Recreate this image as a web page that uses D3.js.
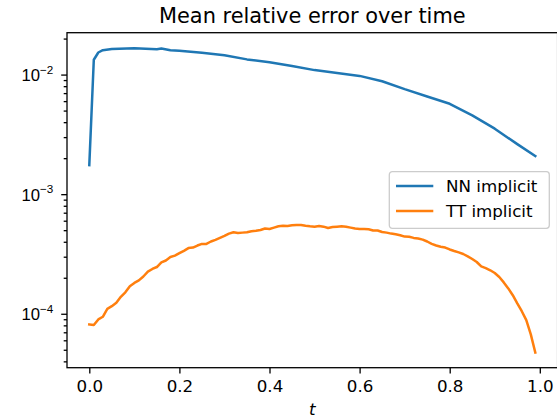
<!DOCTYPE html>
<html>
<head>
<meta charset="utf-8">
<script src="https://cdn.jsdelivr.net/npm/d3@7"></script>
<style>
  body { margin: 0; background: #fff; }
  svg { display: block; font-family: "DejaVu Sans", sans-serif; }
</style>
</head>
<body>
<svg id="chart" width="557" height="418"></svg>
<script>
// time steps of the TT series (0 .. 0.99)
var tTT = d3.range(100).map(function(i) { return i / 100; });

var errTT = [
  8.15e-5, 8.04e-5, 8.97e-5, 9.44e-5, 1.10e-4, 1.157e-4, 1.235e-4, 1.385e-4, 1.51e-4, 1.70e-4,
  1.81e-4, 1.90e-4, 2.05e-4, 2.25e-4, 2.37e-4, 2.46e-4, 2.69e-4, 2.79e-4, 2.98e-4, 3.06e-4,
  3.21e-4, 3.36e-4, 3.54e-4, 3.58e-4, 3.72e-4, 3.84e-4, 3.84e-4, 4.02e-4, 4.15e-4, 4.31e-4,
  4.48e-4, 4.68e-4, 4.80e-4, 4.74e-4, 4.77e-4, 4.80e-4, 4.90e-4, 4.94e-4, 5.02e-4, 5.16e-4,
  5.12e-4, 5.25e-4, 5.39e-4, 5.45e-4, 5.42e-4, 5.49e-4, 5.53e-4, 5.53e-4, 5.45e-4, 5.39e-4,
  5.35e-4, 5.42e-4, 5.35e-4, 5.22e-4, 5.32e-4, 5.35e-4, 5.39e-4, 5.35e-4, 5.25e-4, 5.16e-4,
  5.12e-4, 5.12e-4, 5.09e-4, 4.97e-4, 4.97e-4, 4.83e-4, 4.77e-4, 4.68e-4, 4.62e-4, 4.54e-4,
  4.42e-4, 4.40e-4, 4.31e-4, 4.26e-4, 4.17e-4, 4.02e-4, 3.84e-4, 3.72e-4, 3.63e-4, 3.58e-4,
  3.45e-4, 3.35e-4, 3.26e-4, 3.16e-4, 3.02e-4, 2.87e-4, 2.71e-4, 2.49e-4, 2.41e-4, 2.31e-4,
  2.19e-4, 2.03e-4, 1.83e-4, 1.63e-4, 1.43e-4, 1.22e-4, 1.05e-4, 8.85e-5, 6.73e-5, 4.74e-5
];

// NN series read at coarser steps
var tNN = [0, 0.01, 0.02, 0.03, 0.05, 0.10, 0.15, 0.16, 0.18, 0.20, 0.25, 0.30, 0.35, 0.40,
  0.45, 0.50, 0.55, 0.60, 0.65, 0.70, 0.75, 0.80, 0.85, 0.90, 0.95, 0.99];
var errNN = [1.75e-3, 0.0133, 0.0153, 0.0160, 0.0164, 0.0166, 0.0163, 0.0165, 0.0160, 0.0158,
  0.0152, 0.0145, 0.0134, 0.0127, 0.0118, 0.0109, 0.0103, 0.00975, 0.00880, 0.00755,
  0.00656, 0.00570, 0.00456, 0.00353, 0.00262, 0.00208];

var xTicks = [0, 0.2, 0.4, 0.6, 0.8, 1.0];
var yMajor = [1e-4, 1e-3, 1e-2];
var seriesNames = ["NN implicit", "TT implicit"];
var colors = ["#1f77b4", "#ff7f0e"];

var margin = {left: 67, top: 32.7, right: 557.6, bottom: 367.7};

var svg = d3.select("#chart");

var x = d3.scaleLinear().domain([-0.0495, 1.0395]).range([margin.left, margin.right]);
var y = d3.scaleLog().domain([3.54e-5, 0.0224]).range([margin.bottom, margin.top]);

// minor ticks: 2..9 times each decade inside the domain
var yMinor = y.ticks().filter(function(v) {
  return yMajor.indexOf(v) < 0 && v >= y.domain()[0] && v <= y.domain()[1];
});

//Title
svg.append("text")
  .attr("x", (margin.left + margin.right) / 2)
  .attr("y", 22.7)
  .attr("text-anchor", "middle")
  .attr("font-size", "20.9px")
  .text("Mean relative error over time");

//Lines
var line = d3.line()
  .x(function(d) { return x(d[0]); })
  .y(function(d) { return y(d[1]); });

var nnData = tNN.map(function(t, i) { return [t, errNN[i]]; });
var ttData = tTT.map(function(t, i) { return [t, errTT[i]]; });

[nnData, ttData].forEach(function(data, i) {
  svg.append("path")
    .datum(data)
    .attr("fill", "none")
    .attr("stroke", colors[i])
    .attr("stroke-width", 2.5)
    .attr("stroke-linejoin", "round")
    .attr("stroke-linecap", "square")
    .attr("d", line);
});

//Axes
var xAxis = svg.append("g")
  .attr("transform", "translate(0," + margin.bottom + ")")
  .call(d3.axisBottom(x).tickValues(xTicks).tickSize(5.8).tickPadding(6.8)
    .tickFormat(d3.format(".1f")));

var yAxisMinor = svg.append("g")
  .attr("transform", "translate(" + margin.left + ",0)")
  .call(d3.axisLeft(y).tickValues(yMinor).tickSize(3.3).tickFormat(""));

var yAxis = svg.append("g")
  .attr("transform", "translate(" + margin.left + ",0)")
  .call(d3.axisLeft(y).tickValues(yMajor).tickSize(5.8).tickFormat(""));

[xAxis, yAxis, yAxisMinor].forEach(function(g) {
  g.select(".domain").remove();
  g.selectAll("line").attr("stroke", "#000").attr("stroke-width", 1.3);
  g.selectAll("text").attr("font-family", "DejaVu Sans").attr("font-size", "16.7px").attr("fill", "#000");
});
xAxis.selectAll("text").attr("dy", "0.71em");

// y labels as 10^n
yAxis.selectAll(".tick").each(function(d) {
  var txt = d3.select(this).append("text")
    .attr("x", -13.7)
    .attr("y", 6)
    .attr("text-anchor", "end")
    .attr("fill", "#000")
    .attr("font-size", "16.7px");
  txt.append("tspan").text("10");
  txt.append("tspan")
    .attr("dy", -7.5)
    .attr("font-size", "11.7px")
    .text("\u2212" + Math.round(-Math.log10(d)));
});

//Frame
svg.append("rect")
  .attr("x", margin.left)
  .attr("y", margin.top)
  .attr("width", margin.right - margin.left)
  .attr("height", margin.bottom - margin.top)
  .attr("fill", "none")
  .attr("stroke", "#000")
  .attr("stroke-width", 1.3);

//X label
svg.append("text")
  .attr("x", (margin.left + margin.right) / 2)
  .attr("y", 415)
  .attr("text-anchor", "middle")
  .attr("font-size", "16.7px")
  .attr("font-style", "italic")
  .text("t");

//Legend
var legend = svg.append("g").attr("transform", "translate(389.3,171.7)");
legend.append("rect")
  .attr("width", 160)
  .attr("height", 56.6)
  .attr("rx", 3)
  .attr("fill", "#fff")
  .attr("fill-opacity", 0.8)
  .attr("stroke", "#ccc")
  .attr("stroke-width", 1.3);

seriesNames.forEach(function(name, i) {
  var yy = 14.3 + i * 25;
  legend.append("line")
    .attr("x1", 6.7).attr("x2", 44)
    .attr("y1", yy).attr("y2", yy)
    .attr("stroke", colors[i])
    .attr("stroke-width", 2.5);
  legend.append("text")
    .attr("x", 56.7)
    .attr("y", yy + 6)
    .attr("font-size", "16.7px")
    .text(name);
});
</script>
</body>
</html>
